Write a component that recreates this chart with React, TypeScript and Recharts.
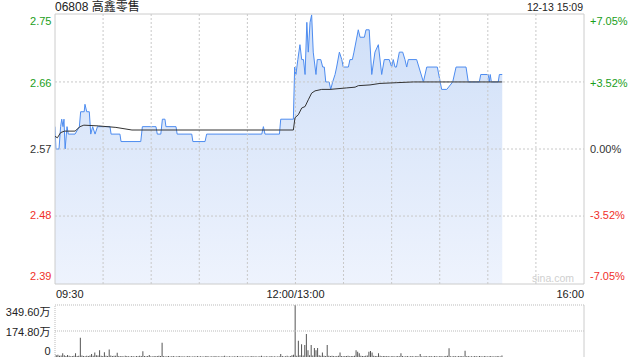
import { ComposedChart, Area, Line, Bar, XAxis, YAxis, ReferenceLine } from "recharts";

// 06808 intraday, minutes counted from 09:30 with the lunch break removed (0..330)
const prevClose = 2.57;
const pctRange = 0.0705;

const priceTicks = [2.39, 2.48, 2.57, 2.66, 2.75];
const pctLabels = ["-7.05%", "-3.52%", "0.00%", "+3.52%", "+7.05%"];

const timeTickMinutes = [0, 150, 330];
const timeTickLabels = ["09:30", "12:00/13:00", "16:00"];
const gridMinutes = [30, 60, 90, 120, 150, 180, 210, 240, 270, 300];

const priceMinutes = [
  0, 0.6, 2.5, 3.5, 4.2, 5, 5.6, 6.3, 7.5, 8.3, 12.5, 15.2, 16, 18.2, 18.7, 19.8, 21.4, 22.3, 23.5, 25,
  26.5, 34.3, 35, 40.5, 41.2, 53.5, 54.5, 63, 63.8, 66, 67, 68.6, 69.2, 75.5, 76.2, 85.3, 86, 93.6, 94.6,
  129, 130, 131, 140, 140.8, 148.7, 149.5, 150.3, 151.5, 152.8, 153.9, 155, 156, 157.1, 158, 159.1, 160.1,
  161.1, 162.8, 163.6, 165.8, 167, 168, 168.9, 171, 172, 173.2, 174.7, 175.7, 177.4, 178.9, 179.8, 183,
  184, 185.5, 186.5, 189.2, 190.3, 193, 194, 196, 197.6, 199.6, 201.7, 203.8, 205.4, 208.5, 210, 211,
  212.1, 213, 214.8, 216.9, 218.3, 219.4, 220.4, 225.6, 229.8, 231.9, 238.5, 241.2, 244.4, 248.1, 250.2,
  256.4, 257.8, 264.7, 265.6, 270.3, 270.9, 271.5, 272.2, 276.5, 277.2, 279,
];
const priceValues = [
  2.6, 2.57, 2.57, 2.6, 2.61, 2.6, 2.61, 2.57, 2.6, 2.59, 2.59, 2.6, 2.62, 2.62, 2.63, 2.62, 2.62, 2.59, 2.6, 2.59,
  2.6, 2.6, 2.59, 2.59, 2.58, 2.58, 2.6, 2.6, 2.59, 2.59, 2.61, 2.61, 2.6, 2.6, 2.59, 2.59, 2.58, 2.58, 2.59,
  2.59, 2.6, 2.59, 2.59, 2.61, 2.61, 2.68, 2.67, 2.69, 2.71, 2.69, 2.69, 2.67, 2.74, 2.7, 2.74, 2.75,
  2.7, 2.67, 2.69, 2.69, 2.68, 2.68, 2.66, 2.66, 2.65, 2.66, 2.67, 2.68, 2.7, 2.69, 2.68, 2.68,
  2.69, 2.69, 2.7, 2.73, 2.72, 2.72, 2.73, 2.73, 2.67, 2.7, 2.71, 2.67, 2.69, 2.69, 2.68, 2.69,
  2.68, 2.68, 2.7, 2.7, 2.69, 2.68, 2.69, 2.69, 2.66, 2.68, 2.68, 2.65, 2.65, 2.66, 2.68,
  2.68, 2.66, 2.66, 2.67, 2.67, 2.66, 2.67, 2.66, 2.66, 2.67, 2.67,
];

const avgMinutes = [
  0, 1.5, 3.5, 6, 12.5, 15.6, 18, 27, 38, 48, 148.7, 149.7, 151.8, 153.9, 156, 158, 160.1, 162.2, 166.4,
  171.6, 182, 187.2, 189.2, 196.5, 202.7, 213.2, 223.5, 279,
];
const avgValues = [
  2.587, 2.585, 2.592, 2.594, 2.594, 2.6, 2.602, 2.601, 2.599, 2.5955, 2.5955, 2.612, 2.616, 2.625, 2.627,
  2.636, 2.645, 2.648, 2.65, 2.65, 2.652, 2.653, 2.655, 2.656, 2.658, 2.659, 2.66, 2.66,
];

// volume per minute, in 万 shares (minute 0 .. 279)
const volumes = [
  20, 12, 15, 8, 10, 25, 12, 6, 14, 8,
  5, 7, 9, 25, 6, 8, 130, 10, 7, 5,
  8, 6, 10, 20, 8, 30, 12, 10, 45, 8,
  6, 32, 9, 7, 50, 10, 6, 8, 9, 28,
  7, 5, 6, 4, 8, 6, 5, 4, 7, 5,
  4, 6, 5, 8, 6, 38, 7, 5, 6, 14,
  5, 4, 6, 5, 7, 8, 6, 95, 6, 4,
  5, 6, 4, 5, 7, 4, 3, 5, 6, 4,
  5, 3, 4, 6, 5, 4, 3, 5, 4, 6,
  4, 5, 3, 4, 5, 6, 4, 3, 5, 4,
  6, 4, 5, 3, 4, 5, 8, 4, 3, 5,
  4, 3, 5, 4, 6, 4, 3, 5, 4, 3,
  5, 4, 3, 6, 4, 5, 3, 4, 5, 8,
  4, 3, 5, 4, 3, 6, 4, 5, 3, 4,
  5, 20, 6, 4, 5, 8, 4, 6, 12, 15,
  349.6, 8, 110, 12, 85, 10, 80, 155, 45, 12,
  80, 10, 60, 45, 60, 12, 8, 30, 9, 7,
  80, 8, 6, 9, 7, 5, 6, 8, 30, 6,
  5, 7, 6, 8, 5, 6, 7, 9, 45, 35,
  25, 8, 6, 7, 9, 10, 35, 40, 30, 8,
  7, 6, 25, 8, 5, 6, 7, 5, 6, 4,
  5, 6, 4, 5, 7, 5, 25, 6, 4, 5,
  6, 4, 5, 7, 4, 5, 6, 4, 20, 5,
  4, 6, 5, 4, 7, 5, 4, 6, 5, 4,
  5, 6, 4, 5, 7, 8, 58, 5, 4, 6,
  5, 4, 6, 5, 7, 4, 42, 5, 6, 4,
  5, 4, 6, 5, 4, 7, 5, 4, 6, 5,
  4, 5, 6, 4, 5, 4, 6, 5, 4, 10,
];
const volTicks = [0, 174.8, 349.6];

const FONT = "'Liberation Sans', Arial, 'Noto Sans CJK SC', sans-serif";
const GREEN = "#1a9e1a";
const RED = "#f0302a";

const lo = prevClose * (1 - pctRange);
const hi = prevClose * (1 + pctRange);

const priceMap = new Map(priceMinutes.map((t, i) => [t, priceValues[i]]));
const avgMap = new Map(avgMinutes.map((t, i) => [t, avgValues[i]]));
const rows = Array.from(new Set([...priceMinutes, ...avgMinutes]))
  .sort((a, b) => a - b)
  .map((t) => ({ t, price: priceMap.get(t), avg: avgMap.get(t) }));

const volRows = volumes.map((v, i) => ({ t: i, vol: v }));

const PriceTick = (props: any) => {
  const { y, payload } = props;
  const v = payload.value;
  const i = priceTicks.indexOf(v);
  const color = v > prevClose ? GREEN : v < prevClose ? RED : "#333";
  // keep the outer labels inside the frame
  const shift = i === priceTicks.length - 1 ? 6 : i === 0 ? -7 : v > prevClose ? 1 : v < prevClose ? -1 : 0;
  const by = y + shift + 4;
  return (
    <g>
      <text x={51.5} y={by} textAnchor="end" fill={color} fontSize={11} fontFamily={FONT}>
        {v.toFixed(2)}
      </text>
      <text x={590} y={by} textAnchor="start" fill={color} fontSize={11} fontFamily={FONT}>
        {pctLabels[i]}
      </text>
    </g>
  );
};

const TimeTick = (props: any) => {
  const { x, payload } = props;
  const i = timeTickMinutes.indexOf(payload.value);
  const anchor = i === 0 ? "start" : i === timeTickMinutes.length - 1 ? "end" : "middle";
  return (
    <text x={x + (i === 0 ? 1 : 0)} y={298} textAnchor={anchor} fill="#222" fontSize={11} fontFamily={FONT}>
      {timeTickLabels[i]}
    </text>
  );
};

const VolTick = (props: any) => {
  const { y, payload } = props;
  const v = payload.value;
  const shift = v === volTicks[volTicks.length - 1] ? 7 : v === 0 ? -6 : 1;
  return (
    <text x={50.5} y={y + shift + 4} textAnchor="end" fill="#222" fontSize={11} fontFamily={FONT}>
      {v === 0 ? "0" : `${v.toFixed(2)}万`}
    </text>
  );
};

const App = () => {
  return (
    <div style={{ position: "absolute", left: 0, top: 0, width: 640, height: 360, background: "#fff", fontFamily: FONT }}>
      <div style={{ position: "absolute", left: 55, top: 0, fontSize: 12, color: "#222", lineHeight: "15px" }}>
        06808 高鑫零售
      </div>
      <div style={{ position: "absolute", right: 57, top: 1, fontSize: 10.5, color: "#222", lineHeight: "13px" }}>
        12-13 15:09
      </div>

      <div style={{ position: "absolute", left: 0, top: 0 }}>
        <ComposedChart width={640} height={300} data={rows} margin={{ top: 14, right: 56, bottom: 0, left: 0 }}>
          <defs>
            <linearGradient id="priceFill" x1="0" y1="0" x2="0" y2="1">
              <stop offset="0%" stopColor="#cfdff8" />
              <stop offset="100%" stopColor="#eef3fd" />
            </linearGradient>
          </defs>
          <XAxis
            dataKey="t"
            type="number"
            domain={[0, 330]}
            ticks={timeTickMinutes}
            interval={0}
            allowDataOverflow
            axisLine={false}
            tickLine={false}
            height={16}
            tick={(p: any) => <TimeTick {...p} />}
          />
          <YAxis
            type="number"
            domain={[lo, hi]}
            ticks={priceTicks}
            interval={0}
            allowDataOverflow
            width={55}
            axisLine={false}
            tickLine={false}
            tick={(p: any) => <PriceTick {...p} />}
          />
          <Area
            type="linear"
            dataKey="price"
            stroke="#4d8cf0"
            strokeWidth={1}
            fill="url(#priceFill)"
            fillOpacity={1}
            connectNulls
            dot={false}
            activeDot={false}
            isAnimationActive={false}
          />
          {gridMinutes.map((m) => (
            <ReferenceLine key={`v${m}`} x={m} stroke="#c8c8c8" strokeDasharray="2 2" />
          ))}
          {priceTicks.slice(1, -1).map((p) => (
            <ReferenceLine key={`h${p}`} y={p} stroke="#c8c8c8" strokeDasharray="2 2" />
          ))}
          <ReferenceLine y={hi} stroke="#cccccc" />
          <ReferenceLine y={lo} stroke="#cccccc" />
          <ReferenceLine x={0} stroke="#cccccc" />
          <ReferenceLine x={330} stroke="#cccccc" />
          <Line
            type="linear"
            dataKey="avg"
            stroke="#333333"
            strokeWidth={1}
            dot={false}
            activeDot={false}
            connectNulls
            isAnimationActive={false}
          />
        </ComposedChart>
      </div>

      <div style={{ position: "absolute", left: 532, top: 272, fontSize: 10.5, color: "#cfcfcf", lineHeight: "13px" }}>
        sina.com
      </div>

      <div style={{ position: "absolute", left: 0, top: 300 }}>
        <ComposedChart width={640} height={60} data={volRows} margin={{ top: 5, right: 56, bottom: 3, left: 0 }}>
          <XAxis dataKey="t" type="number" domain={[0, 330]} hide allowDataOverflow />
          <YAxis
            type="number"
            domain={[0, volTicks[volTicks.length - 1]]}
            ticks={volTicks}
            interval={0}
            allowDataOverflow
            width={55}
            axisLine={false}
            tickLine={false}
            tick={(p: any) => <VolTick {...p} />}
          />
          {volTicks.slice(1).map((v) => (
            <ReferenceLine key={`vh${v}`} y={v} stroke="#bbbbbb" strokeDasharray="1 1" />
          ))}
          <ReferenceLine x={0} stroke="#bbbbbb" strokeDasharray="1 1" />
          <ReferenceLine x={330} stroke="#cccccc" />
          <Bar dataKey="vol" barSize={1} fill="#555555" isAnimationActive={false} />
        </ComposedChart>
      </div>
    </div>
  );
};

export default App;
